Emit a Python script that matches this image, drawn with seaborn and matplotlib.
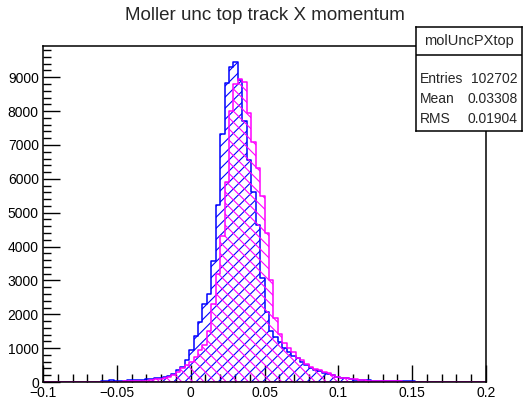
import numpy as np
import pandas as pd
import matplotlib
matplotlib.use("Agg")
import matplotlib.pyplot as plt
import seaborn as sns
from matplotlib.ticker import MultipleLocator

# 100 bins from -0.1 to 0.2
x_min, x_max, n_bins = -0.1, 0.2, 100

blue_counts = [
    0, 0, 0, 2, 0, 3, 2, 3, 5, 4,
    5, 8, 10, 20, 40, 45, 40, 35, 40, 45,
    50, 60, 70, 85, 95, 110, 115, 135, 165, 250,
    350, 430, 640, 935, 1370, 1760, 2300, 2600, 3570, 5230,
    7320, 8830, 9300, 9450, 8930, 7720, 6550, 5600, 4650, 3070,
    2055, 1520, 1316, 1170, 990, 880, 760, 700, 585, 500,
    410, 350, 320, 260, 235, 200, 160, 130, 110, 90,
    70, 60, 50, 45, 40, 35, 30, 28, 25, 22,
    20, 18, 16, 15, 14, 12, 10, 10, 9, 8,
    8, 7, 6, 5, 5, 4, 4, 3, 3, 2,
]

magenta_counts = [
    0, 0, 0, 0, 1, 1, 2, 2, 3, 3,
    4, 5, 6, 7, 8, 10, 12, 14, 16, 18,
    22, 26, 32, 40, 55, 75, 95, 120, 160, 220,
    300, 410, 500, 590, 740, 935, 1080, 1500, 2300, 3200,
    4300, 5900, 8000, 8800, 8950, 8850, 7950, 7080, 6320, 5500,
    4400, 3000, 1900, 1430, 1140, 1000, 880, 700, 640, 530,
    440, 380, 350, 290, 260, 200, 160, 130, 110, 90,
    75, 60, 50, 42, 36, 30, 26, 22, 20, 18,
    16, 14, 12, 11, 10, 9, 8, 7, 6, 6,
    5, 5, 4, 4, 3, 3, 3, 2, 2, 2,
]

x_ticks = [-0.1, -0.05, 0, 0.05, 0.1, 0.15, 0.2]
x_tick_labels = ["\u22120.1", "\u22120.05", "0", "0.05", "0.1", "0.15", "0.2"]

title = "Moller unc top track X momentum"
stats_name = "molUncPXtop"
stats_rows = [("Entries", "102702"), ("Mean", "0.03308"), ("RMS", "0.01904")]

sns.set_style("ticks")
plt.rcParams["font.family"] = ["Liberation Sans", "DejaVu Sans"]
plt.rcParams["hatch.linewidth"] = 0.8

W, H = 529, 404
fig = plt.figure(figsize=(W / 100, H / 100), dpi=100)
ax = fig.add_axes([43 / W, 22 / H, 443 / W, 336 / H])

bw = (x_max - x_min) / n_bins
centers = x_min + bw * (np.arange(n_bins) + 0.5)
for counts, col, hatch in [(blue_counts, "blue", "///"), (magenta_counts, "magenta", "\\\\\\")]:
    df = pd.DataFrame({"x": centers, "w": counts})
    sns.histplot(data=df, x="x", weights="w", binwidth=bw, binrange=(x_min, x_max),
                 element="step", fill=True, color=col, ax=ax)
    poly = ax.collections[-1]
    poly.set_alpha(1)
    poly.set_facecolor("none")
    poly.set_edgecolor(col)
    poly.set_hatch(hatch)
    poly.set_linewidth(1.1)

ax.set_xlim(x_min, x_max)
ax.set_ylim(0, 9923)
ax.set_xlabel("")
ax.set_ylabel("")

ax.set_xticks(x_ticks)
ax.set_xticklabels(x_tick_labels)
ax.xaxis.set_minor_locator(MultipleLocator(0.01))
ax.yaxis.set_major_locator(MultipleLocator(1000))
ax.yaxis.set_minor_locator(MultipleLocator(200))
ax.tick_params(which="major", direction="in", length=12, width=1, colors="black",
               labelsize=10, top=False, right=False, pad=3)
ax.tick_params(which="minor", direction="in", length=6, width=1, colors="black",
               top=False, right=False)
for s in ax.spines.values():
    s.set_color("black")
    s.set_linewidth(1.1)

fig.text(0.5, 1 - 15 / H, title, ha="center", va="center", fontsize=13.5)

# stats box as a small axes on top of the frame
bx0, bx1, by0, by1, bdiv = 416, 522, 27, 131, 55
sax = fig.add_axes([bx0 / W, 1 - by1 / H, (bx1 - bx0) / W, (by1 - by0) / H], zorder=5)
sax.set_xlim(bx0, bx1)
sax.set_ylim(by1, by0)
sax.set_facecolor("white")
sax.set_xticks([])
sax.set_yticks([])
for s in sax.spines.values():
    s.set_color("black")
    s.set_linewidth(1.1)
sax.axhline(bdiv, color="black", linewidth=1.1)
sax.text((bx0 + bx1) / 2, 41, stats_name, ha="center", va="center", fontsize=10.5)
for (lab, val), yy in zip(stats_rows, [79, 99, 119]):
    sax.text(bx0 + 4, yy, lab, ha="left", va="center", fontsize=10)
    sax.text(bx1 - 4, yy, val, ha="right", va="center", fontsize=10)

fig.savefig("out.png", dpi=100)
